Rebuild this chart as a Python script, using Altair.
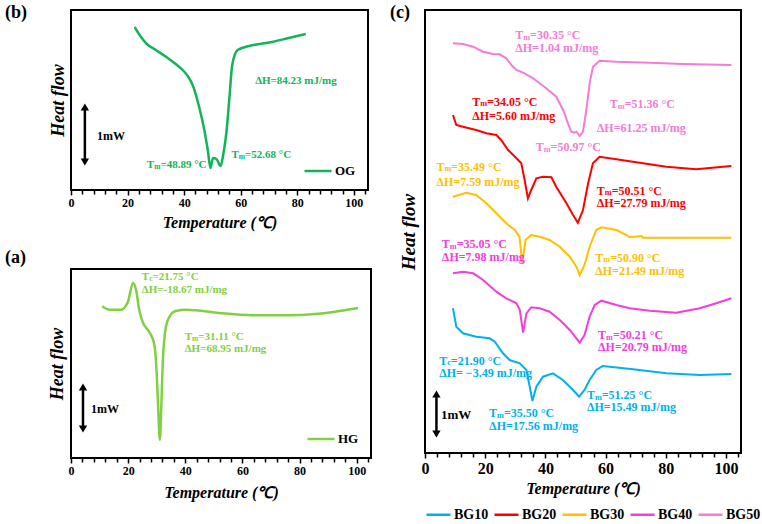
import altair as alt
import pandas as pd

SERIF = "Liberation Serif"

# ---------------- data ----------------
# panel (b): OG
og_temp = [22.5, 24.5, 26.8, 30.0, 33.7, 37.0, 39.5, 41.5, 43.0, 45.4, 47.2, 48.4, 49.3, 50.2, 51.4, 52.9, 53.8, 55.0, 56.0, 57.0, 58.9, 63.0, 71.0, 77.0, 83.0]
og_hf = [163, 154, 146, 140, 133, 126, 120, 113, 105, 82, 59, 39, 22, 32, 31, 24, 35, 59, 92, 125, 140, 144, 148, 152, 156]

# panel (a): HG
hg_temp = [10.9, 13.5, 17.5, 19.9, 21.7, 22.8, 23.9, 25.1, 27.4, 29.1, 30.0, 30.5, 31.1, 31.6, 32.1, 33.2, 34.4, 36.7, 40.2, 43.7, 51.8, 63.4, 75.0, 86.6, 100.5]
hg_hf = [151.7, 148.3, 148.3, 156, 175, 167.7, 147.7, 136, 126, 114.3, 84.3, 51, 18.3, 51, 94.3, 131, 141, 147, 148.3, 147.7, 145, 142.7, 142.7, 144.3, 150]

# panel (c): BG series
bg50_temp = [9.3, 12.6, 16, 19.3, 22.6, 24.8, 27, 28.7, 30.4, 32.6, 35.9, 40.3, 43.6, 45.9, 47.5, 48.6, 49.7, 50.3, 51.4, 52.5, 53.6, 54.7, 55.8, 58, 63.6, 74.7, 85.7, 101.8]
bg50_hf = [409.7, 409, 406.3, 401.3, 399, 398.7, 394.7, 388, 383, 380.3, 374.7, 364.7, 356.3, 343, 329.7, 321.3, 320.3, 321.3, 317, 321.3, 343, 369.7, 386.3, 392.3, 391.3, 390.3, 389, 388]

bg20_temp = [9.3, 10.4, 12.6, 17, 20.4, 23.7, 25.3, 27.6, 30.4, 32, 33.1, 34.2, 35.3, 37, 39.2, 42, 43.6, 47, 49.2, 50.8, 52.5, 54.2, 55.8, 58, 63.6, 69.1, 80.2, 90.1, 101.8]
bg20_hf = [338, 328, 326.3, 323, 319.7, 318, 313, 303, 294.7, 289.7, 273, 254.7, 263, 274.7, 276.3, 275.7, 266.3, 249.7, 238, 230.3, 243, 269.7, 289.7, 296.3, 293.7, 291.3, 286.3, 283.7, 287]

bg30_temp = [9.3, 13.7, 17, 20.4, 23.7, 27, 29.8, 31.4, 32.3, 33.4, 35.3, 38.1, 41.4, 44.8, 48.1, 50.3, 51.4, 53, 54.7, 56.9, 58.6, 63.6, 66.9, 68, 71.9, 72.4, 101.8]
bg30_hf = [256.3, 260.3, 258, 249.7, 239.7, 229.7, 223, 216.3, 189.7, 213, 218, 216.3, 213, 206.3, 196.3, 186.3, 178, 188, 206.3, 223, 225.7, 223, 218, 215.7, 217, 215.3, 215.3]

bg40_temp = [9.3, 12.6, 16, 19.3, 23.7, 27, 30.4, 31.5, 32.6, 33.7, 35.3, 38.1, 41.4, 44.8, 48.1, 50.3, 51.4, 53, 54.7, 56.4, 58.6, 63.6, 68, 74.7, 83.5, 91.3, 96.8, 101.8]
bg40_hf = [179.7, 181.3, 179.7, 173, 161.3, 154.7, 149.7, 143, 120.3, 139.7, 145.7, 144.7, 141.3, 133, 123, 114.7, 110.3, 118, 136.3, 148, 152.3, 148, 144.7, 142.3, 140.3, 144.7, 149.7, 154.7]

bg10_temp = [9.3, 10.4, 12.6, 17, 21.5, 23.2, 25.9, 28.1, 31.5, 33.7, 34.8, 35.7, 37, 39.2, 42.5, 45.8, 49.2, 51.2, 53, 54.7, 56.9, 59.1, 69.1, 80.2, 91.3, 101.8]
bg10_hf = [144.7, 126.3, 119.7, 116.3, 114.7, 111.3, 99.7, 93, 89.7, 83, 66.3, 52, 66.3, 76.3, 79.7, 73, 63, 56.3, 63, 73, 83, 87, 83.7, 79.7, 78, 79]

bg_names = ["BG10", "BG20", "BG30", "BG40", "BG50"]
bg_colors = ["#00B0F0", "#FF0000", "#FFC000", "#F53DDB", "#F67BD6"]
og_color = "#12B456"
hg_color = "#80D040"

# annotations: temperature, heat-flow, subscript letter, text, color
ann_b_temp = [65.1, 26.8, 56.7]
ann_b_hf = [109, 25, 35]
ann_b_sub = ["", "m", "m"]
ann_b_text = ["\u0394H=84.23 mJ/mg", "=48.89 \u00b0C", "=52.68 \u00b0C"]

ann_a_temp = [24.8, 24.8, 39.8, 39.8]
ann_a_hf = [181, 167.7, 121, 108.7]
ann_a_sub = ["c", "", "m", ""]
ann_a_text = ["=21.75 \u00b0C", "\u0394H=-18.67 mJ/mg", "=31.11 \u00b0C", "\u0394H=68.95 mJ/mg"]

ann_c_temp = [30.0, 30.0, 61.4, 57.1, 36.8,
              15.7, 15.7, 57.1, 57.1,
              3.8, 3.8, 56.6, 56.6,
              5.6, 5.6, 57.5, 57.5,
              4.7, 4.7, 53.8, 53.8, 21.3, 21.3]
ann_c_hf = [418, 405.3, 349, 324.7, 305.7,
            351.3, 337.3, 262.3, 249.7,
            286.3, 271.3, 195.3, 182,
            208.7, 196.3, 118, 105.7,
            92.3, 79.7, 58, 45.7, 39.7, 27.3]
ann_c_sub = ["m", "", "m", "", "m",
             "m", "", "m", "",
             "m", "", "m", "",
             "m", "", "m", "",
             "c", "", "m", "", "m", ""]
ann_c_text = ["=30.35 \u00b0C", "\u0394H=1.04 mJ/mg", "=51.36 \u00b0C", "\u0394H=61.25 mJ/mg", "=50.97 \u00b0C",
              "=34.05 \u00b0C", "\u0394H=5.60 mJ/mg", "=50.51 \u00b0C", "\u0394H=27.79 mJ/mg",
              "=35.49 \u00b0C", "\u0394H=7.59 mJ/mg", "=50.90 \u00b0C", "\u0394H=21.49 mJ/mg",
              "=35.05 \u00b0C", "\u0394H=7.98 mJ/mg", "=50.21 \u00b0C", "\u0394H=20.79 mJ/mg",
              "=21.90 \u00b0C", "\u0394H= \u22123.49 mJ/mg", "=51.25 \u00b0C", "\u0394H=15.49 mJ/mg", "=35.50 \u00b0C", "\u0394H=17.56 mJ/mg"]
ann_c_series = ["BG50"] * 5 + ["BG20"] * 4 + ["BG30"] * 4 + ["BG40"] * 4 + ["BG10"] * 6

# 1 mW scale arrows: temperature, low, high, label position
arrow_b = (4.9, 28, 83, 9.2, 54)
arrow_a = (4.2, 29, 71, 7.0, 49)
arrow_c = (3.8, 19, 59, 5.3, 38)

x_ticks = list(range(0, 105, 4))


def x_enc(label_size, title_size, title_pad):
    return alt.X(
        "T:Q",
        scale=alt.Scale(domain=[0, 105], nice=False, zero=False),
        axis=alt.Axis(
            title="Temperature (\u2103)", values=x_ticks,
            labelExpr="datum.value % 20 === 0 ? datum.label : ''",
            grid=False, domain=False, tickColor="black", tickWidth=1.5,
            tickSize={"condition": {"test": "datum.value % 20 === 0", "value": 5}, "value": 4},
            labelFont=SERIF, labelFontWeight="bold", labelFontSize=label_size, labelColor="black",
            labelPadding=2, labelFlush=False,
            titleFont=SERIF, titleFontWeight="bold", titleFontStyle="italic",
            titleFontSize=title_size, titleColor="black", titlePadding=title_pad,
        ),
    )


def y_enc(field, top, title_size, title_pad):
    return alt.Y(
        field + ":Q",
        scale=alt.Scale(domain=[0, top], nice=False, zero=False),
        axis=alt.Axis(
            title="Heat flow", labels=False, ticks=False, domain=False, grid=False,
            titleFont=SERIF, titleFontWeight="bold", titleFontStyle="italic",
            titleFontSize=title_size, titleColor="black", titlePadding=title_pad,
        ),
    )


def ann_layers(df, X, Y, fs):
    subfs = round(fs * 0.68, 1)
    tw = 0.667 * fs
    mw = 0.833 * subfs
    cw = 0.444 * subfs
    base = alt.Chart(df).encode(x=X, y=Y, fill=alt.Fill("col:N", scale=None))
    kw = dict(align="left", baseline="middle", font=SERIF, fontWeight="bold")
    plain = base.transform_filter("datum.sub == ''").mark_text(fontSize=fs, **kw).encode(text="txt:N")
    tl = base.transform_filter("datum.sub != ''").mark_text(fontSize=fs, **kw).encode(text=alt.value("T"))
    sl = base.transform_filter("datum.sub != ''").mark_text(fontSize=subfs, dx=tw, dy=fs * 0.22, **kw).encode(text="sub:N")
    rm = base.transform_filter("datum.sub == 'm'").mark_text(fontSize=fs, dx=tw + mw, **kw).encode(text="txt:N")
    rc = base.transform_filter("datum.sub == 'c'").mark_text(fontSize=fs, dx=tw + cw, **kw).encode(text="txt:N")
    return [plain, tl, sl, rm, rc]


def arrow_layers(arrow, X, top, fs):
    t, lo, hi, lt, lh = arrow
    rdf = pd.DataFrame({"T": [t], "lo": [lo], "hi": [hi]})
    pdf = pd.DataFrame({"T": [t, t], "hf": [hi, lo], "shape": ["triangle-up", "triangle-down"]})
    ldf = pd.DataFrame({"T": [lt], "hf": [lh], "txt": ["1mW"]})
    sc = alt.Scale(domain=[0, top], nice=False, zero=False)
    rule = alt.Chart(rdf).mark_rule(color="black", strokeWidth=2.5).encode(x=X, y=alt.Y("lo:Q", scale=sc), y2="hi:Q")
    heads = alt.Chart(pdf).mark_point(filled=True, color="black", size=70, opacity=1).encode(
        x=X, y=alt.Y("hf:Q", scale=sc), shape=alt.Shape("shape:N", scale=None))
    lab = alt.Chart(ldf).mark_text(align="left", baseline="middle", font=SERIF, fontWeight="bold",
                                   fontSize=fs, color="black").encode(
        x=X, y=alt.Y("hf:Q", scale=sc), text="txt:N")
    return [rule, heads, lab]


def panel_label(txt, px, py):
    return alt.Chart(pd.DataFrame({"lab": [txt]})).mark_text(
        align="left", baseline="middle", font=SERIF, fontWeight="bold", fontSize=18, color="black"
    ).encode(x=alt.value(px), y=alt.value(py), text="lab:N")


def inside_legend(fs):
    return alt.Legend(orient="bottom-right", title=None, symbolType="stroke", symbolSize=729,
                      symbolStrokeWidth=2.5, labelFont=SERIF, labelFontWeight="bold", labelFontSize=fs,
                      labelColor="black", labelOffset=2, offset=12, padding=0)


# ---------------- panel (b) ----------------
Xb = x_enc(12, 16, 6)
Yb = y_enc("hf", 180, 18, 4)
og_df = pd.DataFrame({"T": og_temp, "hf": og_hf, "sample": "OG"})
annb = pd.DataFrame({"T": ann_b_temp, "hf": ann_b_hf, "sub": ann_b_sub, "txt": ann_b_text, "col": og_color})
line_b = alt.Chart(og_df).mark_line(strokeWidth=2.5, interpolate="monotone").encode(
    x=Xb, y=Yb,
    color=alt.Color("sample:N", scale=alt.Scale(domain=["OG"], range=[og_color]), legend=inside_legend(13)))
panel_b = alt.layer(line_b, *ann_layers(annb, Xb, Yb, 11), *arrow_layers(arrow_b, Xb, 180, 12),
                    panel_label("(b)", -66, 3)).properties(width=297, height=180)

# ---------------- panel (a) ----------------
Xa = x_enc(12, 16, 8)
Ya = y_enc("hf", 189, 18, 5)
hg_df = pd.DataFrame({"T": hg_temp, "hf": hg_hf, "sample": "HG"})
anna = pd.DataFrame({"T": ann_a_temp, "hf": ann_a_hf, "sub": ann_a_sub, "txt": ann_a_text, "col": hg_color})
line_a = alt.Chart(hg_df).mark_line(strokeWidth=2.5, interpolate="monotone").encode(
    x=Xa, y=Ya,
    color=alt.Color("sample:N", scale=alt.Scale(domain=["HG"], range=[hg_color]), legend=inside_legend(13)))
panel_a = alt.layer(line_a, *ann_layers(anna, Xa, Ya, 11), *arrow_layers(arrow_a, Xa, 189, 12),
                    panel_label("(a)", -66, -11)).properties(width=300, height=189)

# ---------------- panel (c) ----------------
Xc = x_enc(16, 16, 4)
Yc = y_enc("hf", 443, 19, 7)
bg_frames = []
for name, tt, hh in [("BG10", bg10_temp, bg10_hf), ("BG20", bg20_temp, bg20_hf), ("BG30", bg30_temp, bg30_hf),
                     ("BG40", bg40_temp, bg40_hf), ("BG50", bg50_temp, bg50_hf)]:
    bg_frames.append(pd.DataFrame({"T": tt, "hf": hh, "sample": name}))
bg_df = pd.concat(bg_frames, ignore_index=True)
col_map = dict(zip(bg_names, bg_colors))
annc = pd.DataFrame({"T": ann_c_temp, "hf": ann_c_hf, "sub": ann_c_sub, "txt": ann_c_text,
                     "col": [col_map[s] for s in ann_c_series]})
line_c = alt.Chart(bg_df).mark_line(strokeWidth=2).encode(
    x=Xc, y=Yc,
    color=alt.Color("sample:N", scale=alt.Scale(domain=bg_names, range=bg_colors),
                    legend=alt.Legend(orient="bottom", direction="horizontal", title=None, symbolType="stroke",
                                      symbolSize=576, symbolStrokeWidth=2.5, labelFont=SERIF,
                                      labelFontWeight="bold", labelFontSize=14, labelColor="black",
                                      labelOffset=2, columnPadding=0, offset=5, padding=0)))
panel_c = alt.layer(line_c, *ann_layers(annc, Xc, Yc, 12), *arrow_layers(arrow_c, Xc, 443, 13),
                    panel_label("(c)", -35, 3)).properties(width=316, height=443)

left = alt.vconcat(panel_b, panel_a, spacing=17).resolve_scale(color="independent")
chart = alt.hconcat(left, panel_c, spacing=17).resolve_scale(color="independent").properties(
    padding={"left": 4, "top": 3, "right": 0, "bottom": 0}, background="white"
).configure_view(stroke="black", strokeWidth=2)

chart.save("out.html", embed_options={"renderer": "svg", "actions": False})
